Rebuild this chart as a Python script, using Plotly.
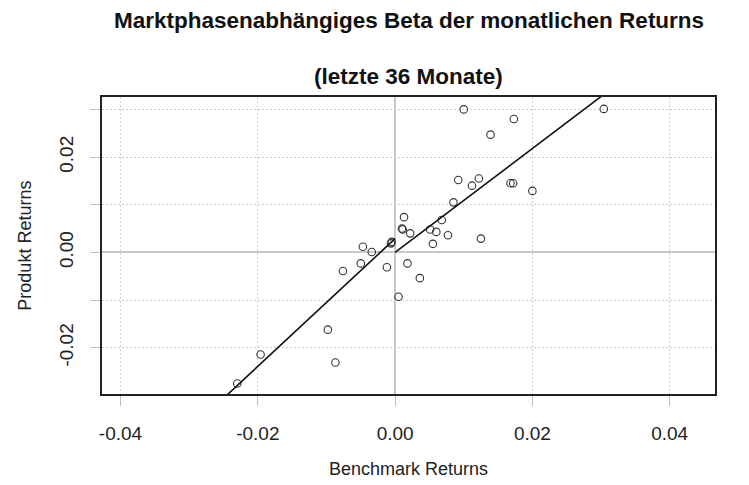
import plotly.graph_objects as go

# Monthly returns
benchmark_returns = [
    0.0100, 0.0173, 0.0139, 0.0304, 0.0092, 0.0122, 0.0112, 0.0168, 0.0172, 0.0200,
    0.0085, 0.0013, 0.0068, 0.0010, 0.0011, 0.0022, 0.0051, 0.0060, 0.0077, 0.0055,
    0.0125, -0.0005, -0.0006, -0.0012, 0.0018, 0.0036, 0.0005, -0.0047, -0.0034, -0.0050,
    -0.0076, -0.0098, -0.0087, -0.0196, -0.0230,
]
product_returns = [
    0.0300, 0.0280, 0.0247, 0.0301, 0.0152, 0.0155, 0.0140, 0.0145, 0.0145, 0.0129,
    0.0105, 0.0074, 0.0068, 0.0050, 0.0048, 0.0040, 0.0048, 0.0043, 0.0036, 0.0018,
    0.0029, 0.0022, 0.0019, -0.0031, -0.0023, -0.0054, -0.0093, 0.0012, 0.0001, -0.0023,
    -0.0039, -0.0162, -0.0231, -0.0214, -0.0275,
]

# Market-phase dependent regression (alpha, beta) for falling / rising benchmark
alpha_down, beta_down = 0.0029, 1.34
alpha_up, beta_up = 0.0000, 1.09

x_range = [-0.0427, 0.0466]
y_range = [-0.0297, 0.0326]

x_tick_vals = [-0.04, -0.02, 0.0, 0.02, 0.04]
x_tick_text = ["-0.04", "-0.02", "0.00", "0.02", "0.04"]
y_tick_vals = [-0.02, 0.0, 0.02]
y_tick_text = ["-0.02", "0.00", "0.02"]

title_line1 = "Marktphasenabhängiges Beta der monatlichen Returns"
title_line2 = "(letzte 36 Monate)"
x_title = "Benchmark Returns"
y_title = "Produkt Returns"

FONT = "Liberation Sans, Arial, Helvetica, sans-serif"

down_x = [x_range[0], 0.0]
down_y = [alpha_down + beta_down * v for v in down_x]
up_x = [0.0, x_range[1]]
up_y = [alpha_up + beta_up * v for v in up_x]

fig = go.Figure()
fig.add_trace(go.Scatter(
    x=benchmark_returns, y=product_returns, mode="markers",
    marker=dict(symbol="circle-open", size=7.5, color="#333333", line=dict(width=1.1)),
    showlegend=False, hoverinfo="x+y",
))
fig.add_trace(go.Scatter(x=down_x, y=down_y, mode="lines",
                         line=dict(color="#111111", width=1.6), showlegend=False))
fig.add_trace(go.Scatter(x=up_x, y=up_y, mode="lines",
                         line=dict(color="#111111", width=1.6), showlegend=False))

GRID_DASH = "2px,2px"

axis_common = dict(
    showline=True, linecolor="#222222", linewidth=1.6, mirror=True,
    ticks="outside", ticklen=10, tickcolor="#c0c0c0", tickwidth=1,
    showgrid=True, gridcolor="#d0d0d0", griddash=GRID_DASH, gridwidth=1,
    zeroline=True, zerolinecolor="#c8c8c8", zerolinewidth=1.5,
    tickfont=dict(family=FONT, size=19, color="#222222"),
    tickmode="array",
)

fig.update_xaxes(**axis_common, range=x_range, tickvals=x_tick_vals, ticktext=x_tick_text,
                 ticklabelstandoff=11)
fig.update_yaxes(**axis_common, range=y_range, tickvals=y_tick_vals, ticktext=y_tick_text,
                 tickangle=-90, ticklabelstandoff=10,
                 minor=dict(tickmode="linear", tick0=0, dtick=0.01, ticks="outside", ticklen=10,
                            tickcolor="#c0c0c0", showgrid=True, gridcolor="#d0d0d0",
                            griddash=GRID_DASH, gridwidth=1))

# The page body adds an 8px offset, so the figure is sized to fit inside the window.
fig.update_layout(
    width=741, height=477,
    margin=dict(l=94, r=34, t=89, b=91),
    paper_bgcolor="white", plot_bgcolor="white",
    font=dict(family=FONT, color="#222222"),
    annotations=[
        dict(text="<b>" + title_line1 + "</b>", xref="paper", yref="paper", x=0.5, y=1.258,
             xanchor="center", yanchor="middle", showarrow=False,
             font=dict(family=FONT, size=22.5, color="#111111")),
        dict(text="<b>" + title_line2 + "</b>", xref="paper", yref="paper", x=0.5, y=1.068,
             xanchor="center", yanchor="middle", showarrow=False,
             font=dict(family=FONT, size=22.5, color="#111111")),
        dict(text=x_title, xref="paper", yref="paper", x=0.5, y=-0.2525,
             xanchor="center", yanchor="middle", showarrow=False,
             font=dict(family=FONT, size=18, color="#222222")),
        dict(text=y_title, xref="paper", yref="paper", x=-0.127, y=0.5, textangle=-90,
             xanchor="center", yanchor="middle", showarrow=False,
             font=dict(family=FONT, size=18, color="#222222")),
    ],
)

fig.write_html("out.html")
